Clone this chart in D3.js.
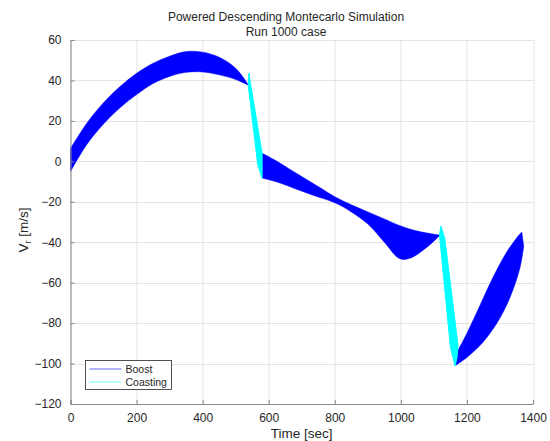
<!DOCTYPE html>
<html>
<head>
<meta charset="utf-8">
<script src="https://cdn.jsdelivr.net/npm/d3@7"></script>
<style>
  body { margin: 0; background: #fff; }
  text { font-family: "Liberation Sans", Arial, sans-serif; fill: #262626; }
</style>
</head>
<body>
<div class="chart"></div>
<script>
// Montecarlo band chart, 1000 runs drawn as envelopes
var svgWidth = 550;
var svgHeight = 441;

var margin = { top: 40, right: 17, bottom: 37, left: 70.5 };
var width = 533 - margin.left;
var height = 404 - margin.top;

// tick labels
var xTicks = [0, 200, 400, 600, 800, 1000, 1200, 1400];
var yTicks = [60, 40, 20, 0, -20, -40, -60, -80, -100, -120];

// boost phase 1 (upper / lower envelope)
var boost1T = [0, 50, 100, 150, 200, 250, 300, 350, 400, 450, 500, 540];
var boost1Hi = [6.4, 19, 29, 37, 43.5, 48.5, 52, 54.3, 54, 51.5, 46, 37.5];
var boost1Lo = [-5, 8.5, 18.5, 26.5, 33, 38.5, 42, 44, 44.2, 42.8, 40.5, 37.5];

// boost phase 2
var boost2HiT = [580, 620, 660, 700, 750, 800, 850, 900, 950, 1000, 1050, 1118];
var boost2Hi = [4, 0.5, -3.5, -7.5, -12.5, -17.5, -21.5, -25, -28.5, -32, -34.5, -36.5];
var boost2LoT = [580, 630, 680, 730, 800, 850, 900, 950, 990, 1010, 1040, 1075, 1100, 1118];
var boost2Lo = [-8.3, -10.5, -13.5, -16.5, -20.5, -25, -31, -40, -47.5, -48.5, -47, -43, -39.5, -36.5];

// boost phase 3
var boost3HiT = [1168, 1200, 1240, 1280, 1320, 1350, 1366];
var boost3Hi = [-95, -85, -71, -57, -45, -38, -35];
var boost3LoT = [1165, 1200, 1240, 1270, 1300, 1330, 1360, 1372];
var boost3Lo = [-101, -97, -91, -85, -77.5, -67.5, -53, -42];

// coasting bands (outline points)
var coast1T = [540, 546, 580, 580, 567, 538];
var coast1V = [43.7, 37.5, 4, -8.3, -2, 37.5];
var coast2T = [1121, 1133, 1173, 1170, 1164, 1150, 1117];
var coast2V = [-32, -38, -91, -97, -101.3, -92, -36.5];

var svg = d3.select(".chart")
    .append("svg")
    .attr("width", svgWidth)
    .attr("height", svgHeight);

var chartGroup = svg.append("g")
    .attr("transform", `translate(${margin.left}, ${margin.top})`);

var xScale = d3.scaleLinear().domain([0, 1400]).range([0, width]);
var yScale = d3.scaleLinear().domain([-120, 60]).range([height, 0]);

// grid
chartGroup.append("g")
    .selectAll("line")
    .data(xTicks)
    .enter()
    .append("line")
    .attr("x1", d => Math.round(xScale(d)) + 0.5)
    .attr("x2", d => Math.round(xScale(d)) + 0.5)
    .attr("y1", 0)
    .attr("y2", height)
    .attr("stroke", "#e3e3e3");

chartGroup.append("g")
    .selectAll("line")
    .data(yTicks)
    .enter()
    .append("line")
    .attr("y1", d => Math.round(yScale(d)) + 0.5)
    .attr("y2", d => Math.round(yScale(d)) + 0.5)
    .attr("x1", 0)
    .attr("x2", width)
    .attr("stroke", "#e3e3e3");

// band drawing: upper curve then lower reversed
function bandPath(hiT, hi, loT, lo) {
  var up = hiT.map((t, i) => [t, hi[i]]);
  var dn = loT.map((t, i) => [t, lo[i]]).reverse();
  var gen = d3.line()
      .x(d => xScale(d[0]))
      .y(d => yScale(d[1]))
      .curve(d3.curveCatmullRom);
  return gen(up) + gen(dn).replace(/^M/, "L") + "Z";
}

var bands = [
  [boost1T, boost1Hi, boost1T, boost1Lo],
  [boost2HiT, boost2Hi, boost2LoT, boost2Lo],
  [boost3HiT, boost3Hi, boost3LoT, boost3Lo]
];

chartGroup.append("g")
    .selectAll("path")
    .data(bands)
    .enter()
    .append("path")
    .attr("d", d => bandPath(d[0], d[1], d[2], d[3]))
    .attr("fill", "#0000ff")
    .attr("stroke", "#0000ff")
    .attr("stroke-opacity", 0.5)
    .attr("stroke-width", 1);

var coasts = [[coast1T, coast1V], [coast2T, coast2V]];

chartGroup.append("g")
    .selectAll("path")
    .data(coasts)
    .enter()
    .append("path")
    .attr("d", d => d3.line()
        .x(p => xScale(p[0]))
        .y(p => yScale(p[1]))(d[0].map((t, i) => [t, d[1][i]])) + "Z")
    .attr("fill", "#00ffff")
    .attr("stroke", "#00ffff")
    .attr("stroke-width", 1);

// axes
var bottomAxis = d3.axisBottom(xScale).tickValues(xTicks).tickSize(-4).tickPadding(9)
    .tickFormat(d3.format("d"));
var leftAxis = d3.axisLeft(yScale).tickValues(yTicks).tickSize(-4).tickPadding(9)
    .tickFormat(d => d < 0 ? "\u2212" + Math.abs(d) : d);

var xAxis = chartGroup.append("g")
    .attr("transform", `translate(0, ${height})`)
    .call(bottomAxis);

var yAxis = chartGroup.append("g")
    .call(leftAxis);

[xAxis, yAxis].forEach(function (ax) {
  ax.select(".domain").attr("stroke", "#888");
  ax.selectAll(".tick line").attr("stroke", "#888");
  ax.selectAll("text")
    .attr("font-size", "12px")
    .attr("font-family", "Liberation Sans, Arial, sans-serif")
    .attr("fill", "#262626");
});

// title
svg.append("text")
    .attr("x", 286)
    .attr("y", 20.5)
    .attr("text-anchor", "middle")
    .attr("font-size", "12px")
    .text("Powered Descending Montecarlo Simulation");

svg.append("text")
    .attr("x", 286)
    .attr("y", 35.5)
    .attr("text-anchor", "middle")
    .attr("font-size", "12px")
    .text("Run 1000 case");

// axis labels
svg.append("text")
    .attr("x", margin.left + width / 2)
    .attr("y", 438)
    .attr("text-anchor", "middle")
    .attr("font-size", "13.5px")
    .text("Time [sec]");

var yLabel = svg.append("text")
    .attr("transform", "translate(28, 230) rotate(-90)")
    .attr("text-anchor", "middle")
    .attr("font-size", "13.5px");
yLabel.append("tspan").text("V");
yLabel.append("tspan").attr("font-size", "9.5px").attr("dy", 3).text("r");
yLabel.append("tspan").attr("dy", -3).text("  [m/s]");

// legend
var legendNames = ["Boost", "Coasting"];
var legendColors = ["#0000ff", "#00ffff"];

var legend = svg.append("g")
    .attr("transform", "translate(85.5, 360.5)");

legend.append("rect")
    .attr("width", 86)
    .attr("height", 29)
    .attr("fill", "#fff")
    .attr("stroke", "#262626")
    .attr("stroke-width", 0.8);

legendNames.forEach(function (name, i) {
  legend.append("line")
      .attr("x1", 4)
      .attr("x2", 36)
      .attr("y1", 8.5 + i * 13)
      .attr("y2", 8.5 + i * 13)
      .attr("stroke", legendColors[i])
      .attr("stroke-opacity", 0.6)
      .attr("stroke-width", 1);
  legend.append("text")
      .attr("x", 40)
      .attr("y", 12.5 + i * 13)
      .attr("font-size", "10.5px")
      .text(name);
});
</script>
</body>
</html>
